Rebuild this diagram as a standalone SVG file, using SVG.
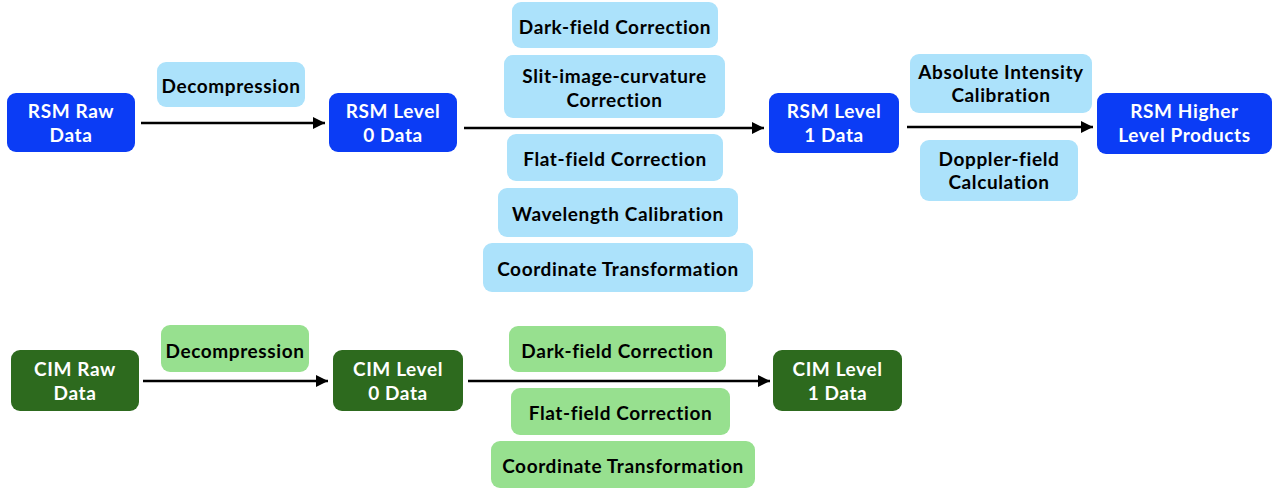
<svg xmlns="http://www.w3.org/2000/svg" width="1273" height="489" viewBox="0 0 1273 489">
<defs>
<marker id="ah" viewBox="0 0 10 10" refX="10" refY="5" markerWidth="5" markerHeight="5" orient="auto" markerUnits="strokeWidth"><path d="M0,0 L10,5 L0,10 z" fill="#000"/></marker>
<style>
.t{font-family:Lato,"Noto Sans",sans-serif;font-weight:700;font-size:19px;letter-spacing:0.6px;text-anchor:middle}
.w{fill:#fff}
.k{fill:#000}
.rb{fill:#0b3cf5}
.lb{fill:#ace2fb}
.rg{fill:#2d6a1e}
.lg{fill:#97e08f}
.c{stroke:#000;stroke-width:2.5;fill:none;marker-end:url(#ah)}
</style>
</defs>
<rect width="1273" height="489" fill="#fff"/>
<g id="connectors">
<line class="c" x1="141" y1="123" x2="325" y2="123"/>
<line class="c" x1="464" y1="128" x2="764" y2="128"/>
<line class="c" x1="907" y1="127" x2="1093" y2="127"/>
<line class="c" x1="143" y1="381" x2="328" y2="381"/>
<line class="c" x1="468" y1="381" x2="770" y2="381"/>
</g>
<g id="rsm-raw"><rect class="rb" x="7" y="93" width="128" height="59" rx="9"/><text class="t w" x="71" y="118">RSM Raw</text><text class="t w" x="71" y="141.5">Data</text></g>
<g id="rsm-decomp"><rect class="lb" x="157" y="62" width="148" height="45" rx="9"/><text class="t k" x="231" y="93">Decompression</text></g>
<g id="rsm-l0"><rect class="rb" x="329" y="93" width="128" height="59" rx="9"/><text class="t w" x="393" y="118">RSM Level</text><text class="t w" x="393" y="141.5">0 Data</text></g>
<g id="rsm-dark"><rect class="lb" x="512" y="2" width="206" height="46" rx="9"/><text class="t k" x="615" y="33.5">Dark-field Correction</text></g>
<g id="rsm-slit"><rect class="lb" x="504" y="55" width="221" height="63" rx="9"/><text class="t k" x="614.5" y="83">Slit-image-curvature</text><text class="t k" x="614.5" y="107">Correction</text></g>
<g id="rsm-flat"><rect class="lb" x="507" y="134" width="216" height="47" rx="9"/><text class="t k" x="615" y="166">Flat-field Correction</text></g>
<g id="rsm-wave"><rect class="lb" x="498" y="188" width="240" height="49" rx="9"/><text class="t k" x="618" y="220.5">Wavelength Calibration</text></g>
<g id="rsm-coord"><rect class="lb" x="483" y="243" width="270" height="49" rx="9"/><text class="t k" x="618" y="275.5">Coordinate Transformation</text></g>
<g id="rsm-l1"><rect class="rb" x="769" y="93" width="130" height="60" rx="9"/><text class="t w" x="834" y="118">RSM Level</text><text class="t w" x="834" y="141.5">1 Data</text></g>
<g id="rsm-abs"><rect class="lb" x="910" y="54" width="182" height="59" rx="9"/><text class="t k" x="1001" y="79">Absolute Intensity</text><text class="t k" x="1001" y="102">Calibration</text></g>
<g id="rsm-doppler"><rect class="lb" x="920" y="140" width="158" height="61" rx="9"/><text class="t k" x="999" y="166">Doppler-field</text><text class="t k" x="999" y="189">Calculation</text></g>
<g id="rsm-higher"><rect class="rb" x="1097" y="93" width="175" height="61" rx="9"/><text class="t w" x="1184.5" y="118">RSM Higher</text><text class="t w" x="1184.5" y="141.5">Level Products</text></g>
<g id="cim-raw"><rect class="rg" x="11" y="350" width="128" height="61" rx="9"/><text class="t w" x="75" y="375.5">CIM Raw</text><text class="t w" x="75" y="399.5">Data</text></g>
<g id="cim-decomp"><rect class="lg" x="161" y="325" width="148" height="47" rx="9"/><text class="t k" x="235" y="357.5">Decompression</text></g>
<g id="cim-l0"><rect class="rg" x="333" y="350" width="130" height="61" rx="9"/><text class="t w" x="398" y="375.5">CIM Level</text><text class="t w" x="398" y="399.5">0 Data</text></g>
<g id="cim-dark"><rect class="lg" x="509" y="326" width="217" height="46" rx="9"/><text class="t k" x="617.5" y="357.5">Dark-field Correction</text></g>
<g id="cim-flat"><rect class="lg" x="511" y="388" width="219" height="47" rx="9"/><text class="t k" x="620.5" y="419.5">Flat-field Correction</text></g>
<g id="cim-coord"><rect class="lg" x="491" y="441" width="264" height="47" rx="9"/><text class="t k" x="623" y="472.5">Coordinate Transformation</text></g>
<g id="cim-l1"><rect class="rg" x="773" y="350" width="129" height="61" rx="9"/><text class="t w" x="837.5" y="375.5">CIM Level</text><text class="t w" x="837.5" y="399.5">1 Data</text></g>
</svg>
